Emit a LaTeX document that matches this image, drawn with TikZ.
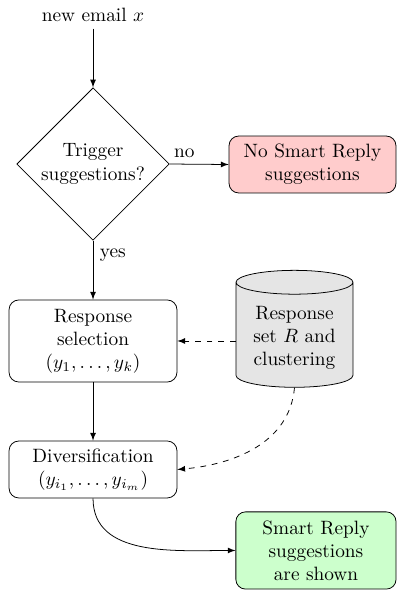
\documentclass[tikz,border=0pt]{standalone}
\usetikzlibrary{shapes.geometric,arrows}

\tikzset{
    flowbox/.style={draw, rounded corners=5pt, align=center, minimum width=87pt},
    decision/.style={draw, diamond, aspect=1, align=center, inner sep=0pt, minimum size=79pt},
    store/.style={draw, cylinder, shape border rotate=90, aspect=0.25, fill=gray!20,
        align=center, minimum width=60.6pt, minimum height=60.6pt},
    flow/.style={->, >=latex},
    feed/.style={->, >=latex, dashed},
}

\begin{document}
\begin{tikzpicture}
    \useasboundingbox (0,0) rectangle (7.23,-10.745);

    \node (email) at (1.694,-0.273) {new email $x$};
    \node[decision] (trig) at (1.694,-2.987) {Trigger\\suggestions?};
    \node[flowbox, fill=red!20, minimum width=86.5pt, minimum height=29.5pt] (nosr) at (5.691,-2.996)
        {No Smart Reply\\suggestions};

    \node[flowbox, minimum height=42.5pt] (sel) at (1.694,-6.210)
        {Response\\selection\\$(y_1,\ldots,y_k)$};
    \node[store] (resp) at (5.363,-6.15) {Response\\set $R$ and\\clustering};

    \node[flowbox, minimum height=29.5pt] (div) at (1.694,-8.550)
        {Diversification\\$(y_{i_1},\ldots,y_{i_m})$};
    \node[flowbox, fill=green!20, minimum width=83pt, minimum height=40pt] (shown) at (5.754,-10.025)
        {Smart Reply\\suggestions\\are shown};

\draw [flow] (email) -- (trig);
\draw [flow] (trig.east) -- (nosr.west) node[near start,above] {no};
\draw [flow] (trig.south) -- (sel.north) node[near start,right] {yes};
\draw [flow] (sel.south) -- (div.north);
\draw [feed] (resp.west |- sel.east) -- (sel.east);
\draw [feed] (resp.south) to[out=-95,in=5] (div.east);
\draw [flow] (div.south) to[out=-90,in=180] (shown.west);
\end{tikzpicture}
\end{document}
